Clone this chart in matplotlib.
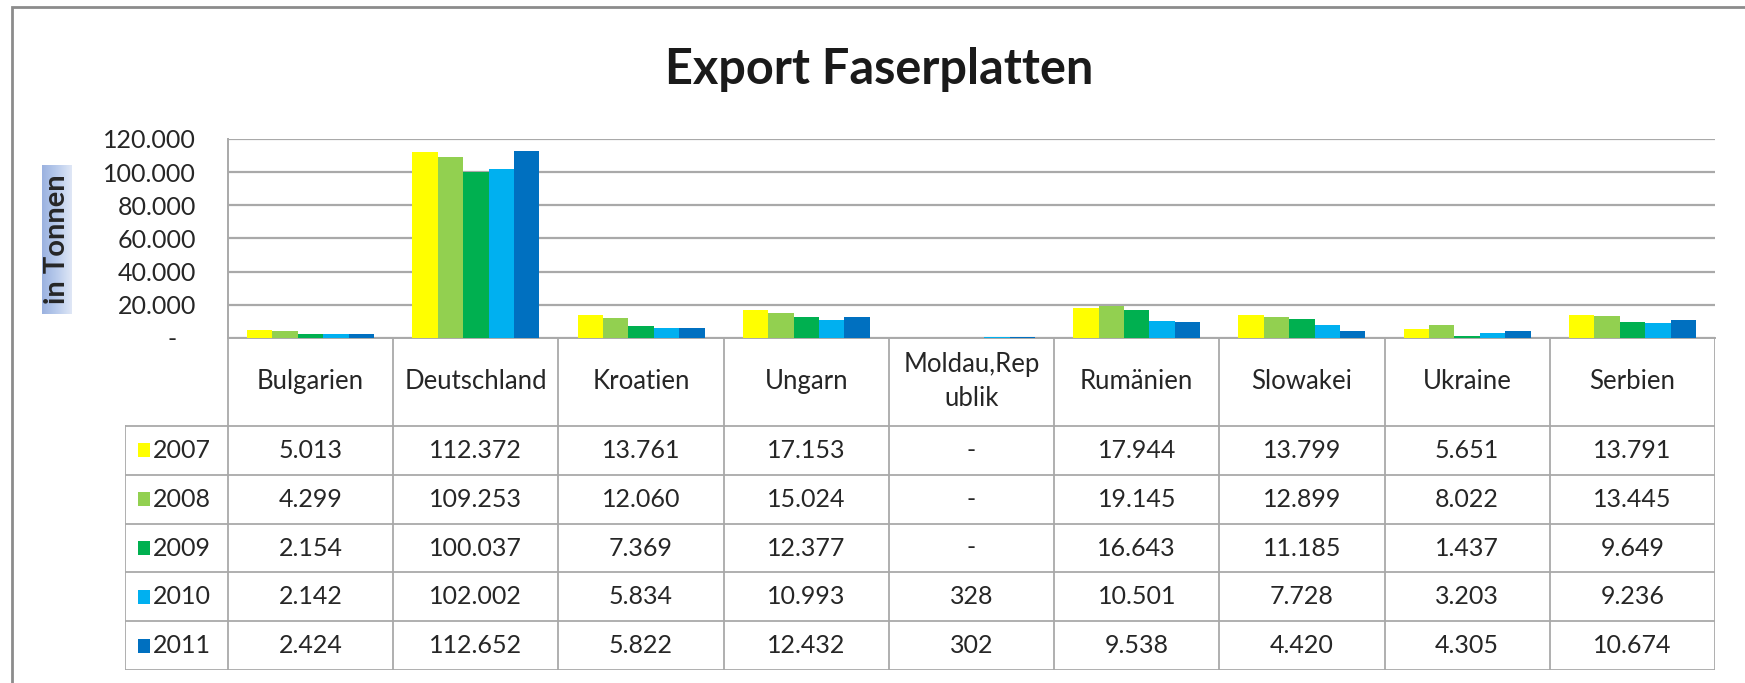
import numpy as np
import matplotlib.pyplot as plt
from matplotlib.patches import Rectangle
from matplotlib.ticker import FuncFormatter
from matplotlib.colors import LinearSegmentedColormap

plt.rcParams['font.family'] = ['Lato', 'DejaVu Sans']

countries = ['Bulgarien', 'Deutschland', 'Kroatien', 'Ungarn', 'Moldau,Rep\nublik',
             'Rumänien', 'Slowakei', 'Ukraine', 'Serbien']
years = ['2007', '2008', '2009', '2010', '2011']
colors = ['#FFFF00', '#92D050', '#00B050', '#00B0F0', '#0070C0']

# Tonnen, None = keine Angabe
exp_2007 = [5013, 112372, 13761, 17153, None, 17944, 13799, 5651, 13791]
exp_2008 = [4299, 109253, 12060, 15024, None, 19145, 12899, 8022, 13445]
exp_2009 = [2154, 100037, 7369, 12377, None, 16643, 11185, 1437, 9649]
exp_2010 = [2142, 102002, 5834, 10993, 328, 10501, 7728, 3203, 9236]
exp_2011 = [2424, 112652, 5822, 12432, 302, 9538, 4420, 4305, 10674]
series = [exp_2007, exp_2008, exp_2009, exp_2010, exp_2011]

yticks = [0, 20000, 40000, 60000, 80000, 100000, 120000]


def de_fmt(v):
    if v is None:
        return '-'
    return f'{int(v):,}'.replace(',', '.')


W, H = 1745, 683
fig = plt.figure(figsize=(W / 100, H / 100), dpi=100)

# outer frame
fig.patches.append(Rectangle((12 / W, -0.02), 1.1, 1 - 7 / H + 0.02, transform=fig.transFigure,
                             fill=False, ec='#8c8c8c', lw=2))

# plot area in pixels
pl, pr, pt, pb = 228, 1715, 139, 338
tab_left, tab_bottom = 125, 670
gridc = '#a9a9a9'
txtc = '#262626'
fs = 18

ax = fig.add_axes([pl / W, (H - pb) / H, (pr - pl) / W, (pb - pt) / H])
n = len(countries)
x = np.arange(n)
w = 1 / 6.5
for j, (vals, c) in enumerate(zip(series, colors)):
    v = [0 if a is None else a for a in vals]
    ax.bar(x + (j - 2) * w, v, width=w, color=c, zorder=3)
ax.set_xlim(-0.5, n - 0.5)
ax.set_ylim(0, 120000)
ax.set_yticks(yticks)
ax.yaxis.set_major_formatter(FuncFormatter(lambda v, p: '-   ' if v == 0 else de_fmt(v)))
ax.set_xticks([])
ax.tick_params(axis='y', length=0, pad=23, labelsize=fs, labelcolor=txtc)
ax.yaxis.grid(True, color=gridc, lw=1.6, zorder=0)
ax.set_axisbelow(True)
for s in ['top', 'right']:
    ax.spines[s].set_visible(False)
for s in ['left', 'bottom']:
    ax.spines[s].set_color(gridc)
    ax.spines[s].set_linewidth(1.4)

# table below the bars
unit = (pr - pl) / n
x0 = -0.5 - (pl - tab_left) / unit
tax = fig.add_axes([tab_left / W, (H - tab_bottom) / H, (pr - tab_left) / W, (tab_bottom - pb) / H])
tax.set_xlim(x0, n - 0.5)
th = tab_bottom - pb
tax.set_ylim(th, 0)
tax.axis('off')
hdr = 88
rh = (th - hdr) / len(years)
lc = dict(color=gridc, lw=1.3)
for k in range(n + 1):
    tax.plot([k - 0.5, k - 0.5], [0, th], **lc)
tax.plot([x0, x0], [hdr, th], **lc)
for r in range(len(years) + 1):
    yy = hdr + r * rh
    tax.plot([x0, n - 0.5], [yy, yy], **lc)

for i, name in enumerate(countries):
    tax.text(i, hdr / 2, name, ha='center', va='center', fontsize=fs + 0.5, color=txtc, linespacing=1.45)

sq_x = x0 + (138 - tab_left) / unit
for r, (yr, vals, c) in enumerate(zip(years, series, colors)):
    yc = hdr + (r + 0.5) * rh
    tax.add_patch(Rectangle((sq_x, yc - 7), 12 / unit, 14, color=c, lw=0))
    tax.text(sq_x + 15 / unit, yc, yr, ha='left', va='center', fontsize=fs, color=txtc)
    for i, v in enumerate(vals):
        tax.text(i, yc, de_fmt(v), ha='center', va='center', fontsize=fs, color=txtc)

# y-axis title with light blue box
lax = fig.add_axes([42 / W, (H - 314) / H, 30 / W, 149 / H])
grad = np.linspace(0, 1, 50).reshape(1, -1)
cm = LinearSegmentedColormap.from_list('b', ['#9bb2e0', '#b9cbec', '#dfe7f6'])
lax.imshow(grad, aspect='auto', cmap=cm, extent=[0, 1, 0, 1])
lax.axis('off')
lax.text(0.5, 0.5, 'in Tonnen', rotation=90, ha='center', va='center', fontsize=21,
         fontweight='bold', color=txtc, transform=lax.transAxes)

fig.text(879 / W, 1 - 69 / H, 'Export Faserplatten', ha='center', va='center',
         fontsize=35, fontweight='bold', color='#1a1a1a')

fig.savefig('out.png', dpi=100)
